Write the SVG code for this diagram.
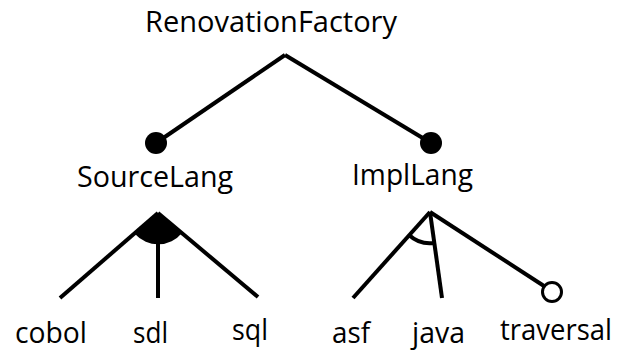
<svg xmlns="http://www.w3.org/2000/svg" width="621" height="352" viewBox="0 0 621 352">
<style>
text{font-family:"Open Sans","Liberation Sans",sans-serif;font-size:30px;fill:#000}
.c{stroke:#000;stroke-width:4;fill:none;stroke-linecap:butt}
</style>
<rect width="621" height="352" fill="#fff"/>
<g id="connectors">
<line class="c" x1="285" y1="55" x2="156" y2="143"/>
<line class="c" x1="285" y1="55" x2="431" y2="143"/>
<line class="c" x1="158" y1="213" x2="60" y2="298"/>
<line class="c" x1="158" y1="213" x2="158" y2="298"/>
<line class="c" x1="158" y1="213" x2="258" y2="297"/>
<path d="M158 213 L135 234 A31 31 0 0 0 182 233 Z" fill="#000"/>
<line class="c" x1="430" y1="212" x2="353" y2="298"/>
<line class="c" x1="430" y1="212" x2="442" y2="298"/>
<line class="c" x1="430" y1="212" x2="544" y2="286"/>
<path class="c" stroke-width="2" d="M409 235 A31 31 0 0 0 434 243"/>
<circle cx="156" cy="143" r="11" fill="#000"/>
<circle cx="431" cy="143" r="11" fill="#000"/>
<circle cx="552" cy="292" r="9.5" fill="#fff" stroke="#000" stroke-width="3"/>
</g>
<g id="RenovationFactory"><text x="145" y="32" textLength="252" lengthAdjust="spacingAndGlyphs">RenovationFactory</text></g>
<g id="SourceLang"><text x="77" y="187" textLength="156" lengthAdjust="spacingAndGlyphs">SourceLang</text></g>
<g id="ImplLang"><text x="352" y="185" textLength="121" lengthAdjust="spacingAndGlyphs">ImplLang</text></g>
<g id="cobol"><text x="15" y="343" textLength="72" lengthAdjust="spacingAndGlyphs">cobol</text></g>
<g id="sdl"><text x="133" y="343" textLength="35" lengthAdjust="spacingAndGlyphs">sdl</text></g>
<g id="sql"><text x="232" y="340" textLength="36" lengthAdjust="spacingAndGlyphs">sql</text></g>
<g id="asf"><text x="332" y="343" textLength="38" lengthAdjust="spacingAndGlyphs">asf</text></g>
<g id="java"><text x="412" y="343" textLength="53" lengthAdjust="spacingAndGlyphs">java</text></g>
<g id="traversal"><text x="500" y="340" font-size="29" textLength="112" lengthAdjust="spacingAndGlyphs">traversal</text></g>
</svg>
